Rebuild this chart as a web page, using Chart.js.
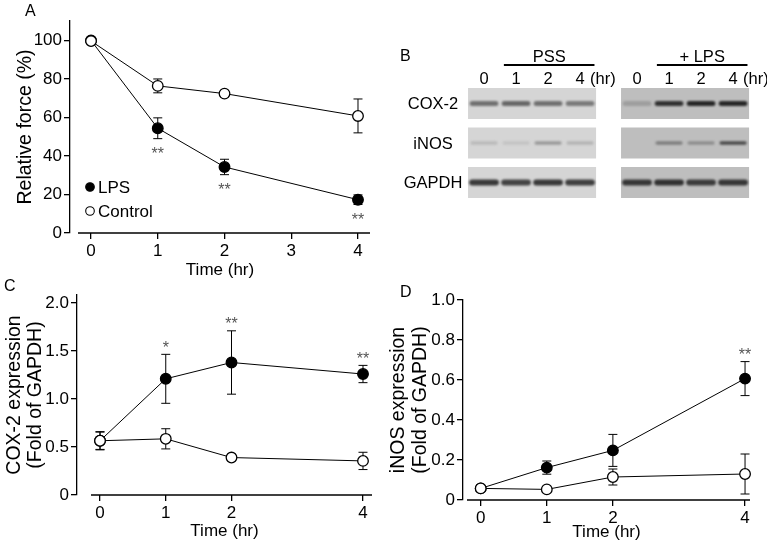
<!DOCTYPE html>
<html>
<head>
<meta charset="UTF-8">
<title>LPS force and expression</title>
<script src="https://cdn.jsdelivr.net/npm/chart.js@4.4.1/dist/chart.umd.min.js"></script>
<style>
  body { margin: 0; background: #fff; }
  #fig { position: relative; width: 767px; height: 541px; overflow: hidden; }
  #fig canvas { position: absolute; }
  .panel { position: absolute; font: 16px "Liberation Sans", Arial, sans-serif; line-height: 16px; color: #000; }
</style>
</head>
<body>
<div id="fig">
  <canvas id="chartA" width="380" height="282" style="left:0;top:0"></canvas>
  <canvas id="chartB" width="387" height="270" style="left:380px;top:0"></canvas>
  <canvas id="chartC" width="380" height="271" style="left:0;top:270px"></canvas>
  <canvas id="chartD" width="387" height="271" style="left:380px;top:270px"></canvas>
  <div class="panel" style="left:25px;top:3px">A</div>
  <div class="panel" style="left:400px;top:48px">B</div>
  <div class="panel" style="left:4px;top:278px">C</div>
  <div class="panel" style="left:400px;top:284px">D</div>
</div>
<script>
var FONT = '"Liberation Sans", Arial, sans-serif';

// data
var time = [0, 1, 2, 4];
var seriesNames = ['LPS', 'Control'];

var forceLPS = [100, 54.4, 34.3, 17.3];
var forceLPSErr = [0, 5.4, 4.0, 2.5];
var forceCtrl = [99.7, 76.4, 72.4, 60.8];
var forceCtrlErr = [0, 3.6, 1.5, 8.8];
var forceStars = ['', '**', '**', '**'];
var forceYTicks = [0, 20, 40, 60, 80, 100];
var forceXTicks = [0, 1, 2, 3, 4];

var coxLPS = [0.565, 1.21, 1.38, 1.26];
var coxLPSErr = [0.09, 0.255, 0.33, 0.09];
var coxCtrl = [0.565, 0.585, 0.39, 0.355];
var coxCtrlErr = [0.095, 0.105, 0.02, 0.09];
var coxStars = ['', '*', '**', '**'];
var coxYTicks = [0, 0.5, 1.0, 1.5, 2.0];

var inosLPS = [0.058, 0.162, 0.248, 0.607];
var inosLPSErr = [0.005, 0.033, 0.08, 0.085];
var inosCtrl = [0.058, 0.053, 0.115, 0.13];
var inosCtrlErr = [0.005, 0.005, 0.04, 0.1];
var inosStars = ['', '', '', '**'];
var inosYTicks = [0, 0.2, 0.4, 0.6, 0.8, 1.0];

var timeTicks = [0, 1, 2, 4];

// gel (panel B): band darkness 0..1 per lane
var gelRows = ['COX-2', 'iNOS', 'GAPDH'];
var gelLanes = ['0', '1', '2', '4'];
var gelGroups = ['PSS', '+ LPS'];
var coxBandPSS = [0.55, 0.6, 0.55, 0.5];
var coxBandLPS = [0.2, 0.88, 0.95, 0.95];
var inosBandPSS = [0.15, 0.1, 0.32, 0.18];
var inosBandLPS = [0, 0.4, 0.3, 0.72];
var gapdhBandPSS = [0.85, 0.8, 0.85, 0.82];
var gapdhBandLPS = [0.85, 0.88, 0.82, 0.85];

// error bars, stars, x axis line, legend
var figureExtras = {
  id: 'figureExtras',
  beforeDatasetsDraw: function(chart) {
    var ctx = chart.ctx, xs = chart.scales.x, ys = chart.scales.y;
    ctx.save();
    ctx.strokeStyle = '#000';
    ctx.lineWidth = 1;
    chart.data.datasets.forEach(function(ds) {
      if (!ds.err) return;
      ds.data.forEach(function(p, i) {
        var e = ds.err[i];
        if (!e) return;
        var px = xs.getPixelForValue(p.x);
        var top = ys.getPixelForValue(p.y + e);
        var bot = ys.getPixelForValue(p.y - e);
        ctx.beginPath();
        ctx.moveTo(px, top); ctx.lineTo(px, bot);
        ctx.moveTo(px - 4.5, top); ctx.lineTo(px + 4.5, top);
        ctx.moveTo(px - 4.5, bot); ctx.lineTo(px + 4.5, bot);
        ctx.stroke();
      });
    });
    ctx.restore();
  },
  afterDatasetsDraw: function(chart, args, opts) {
    var ctx = chart.ctx, xs = chart.scales.x, ys = chart.scales.y, area = chart.chartArea;
    ctx.save();
    // x axis line, with a small gap from the y axis
    ctx.strokeStyle = '#000';
    ctx.lineWidth = 1.3;
    ctx.beginPath();
    ctx.moveTo(area.left + opts.axisGap, area.bottom);
    ctx.lineTo(area.right, area.bottom);
    ctx.stroke();

    // significance stars
    ctx.fillStyle = '#555';
    ctx.font = '16px ' + FONT;
    ctx.textAlign = 'center';
    ctx.textBaseline = 'alphabetic';
    chart.data.datasets.forEach(function(ds) {
      if (!ds.stars) return;
      ds.data.forEach(function(p, i) {
        if (!ds.stars[i]) return;
        var px = xs.getPixelForValue(p.x);
        var cy;
        if (ds.starSide === 'below') cy = ys.getPixelForValue(p.y - ds.err[i]) + 11;
        else cy = ys.getPixelForValue(p.y + ds.err[i]) - 10.5;
        ctx.fillText(ds.stars[i], px, cy + 9);
      });
    });

    // legend
    if (opts.legend) {
      var lg = opts.legend;
      ctx.font = '17px ' + FONT;
      ctx.textAlign = 'left';
      ctx.textBaseline = 'middle';
      seriesNames.forEach(function(name, i) {
        var lx = area.left + lg.x;
        var ly = area.bottom - lg.y + i * lg.gap;
        ctx.beginPath();
        ctx.arc(lx, ly, 4.3, 0, Math.PI * 2);
        ctx.fillStyle = i === 0 ? '#000' : '#fff';
        ctx.fill();
        ctx.lineWidth = 1.1;
        ctx.strokeStyle = '#000';
        ctx.stroke();
        ctx.fillStyle = '#000';
        ctx.fillText(name, lx + 8, ly + 1);
      });
    }
    ctx.restore();
  }
};

function seriesData(vals) {
  return time.map(function(t, i) { return { x: t, y: vals[i] }; });
}

function makeDatasets(lps, lpsErr, ctrl, ctrlErr, stars, starSide) {
  var common = {
    borderColor: '#000', borderWidth: 1, tension: 0, clip: false,
    pointRadius: 5.3, pointBorderColor: '#000', pointBorderWidth: 1.3
  };
  return [
    Object.assign({}, common, {
      label: seriesNames[1], data: seriesData(ctrl), err: ctrlErr,
      pointBackgroundColor: '#fff', order: 0
    }),
    Object.assign({}, common, {
      label: seriesNames[0], data: seriesData(lps), err: lpsErr,
      stars: stars, starSide: starSide,
      pointBackgroundColor: '#000', order: 1
    })
  ];
}

function lineOptions(cfg) {
  var grid = { drawOnChartArea: false, drawTicks: true, tickLength: 6, color: '#000', lineWidth: 1.3 };
  return {
    responsive: false,
    animation: false,
    events: [],
    layout: { padding: cfg.padding },
    plugins: {
      legend: { display: false },
      tooltip: { enabled: false },
      figureExtras: { axisGap: cfg.axisGap, legend: cfg.legend }
    },
    scales: {
      x: {
        type: 'linear', min: cfg.xMin, max: cfg.xMax,
        afterBuildTicks: function(axis) { axis.ticks = cfg.xTicks.map(function(v) { return { value: v }; }); },
        afterFit: function(axis) { axis.height = cfg.xHeight; },
        border: { display: false },
        grid: grid,
        ticks: { color: '#000', font: { family: FONT, size: 17 }, padding: 2, maxRotation: 0,
                 callback: function(v) { return String(v); } },
        title: { display: true, text: 'Time (hr)', color: '#000',
                 font: { family: FONT, size: 17, lineHeight: 1.0 }, padding: { top: 0, bottom: cfg.xTitlePad } }
      },
      y: {
        type: 'linear', min: 0, max: cfg.yMax,
        afterBuildTicks: function(axis) { axis.ticks = cfg.yTicks.map(function(v) { return { value: v }; }); },
        afterFit: function(axis) { axis.width = cfg.yWidth; },
        border: { display: true, color: '#000', width: 1.3 },
        grid: grid,
        ticks: { color: '#000', font: { family: FONT, size: 17 }, padding: 2, callback: cfg.yFormat },
        title: { display: true, text: cfg.yTitle, color: '#000',
                 font: { family: FONT, size: 19.5, lineHeight: 1.1 }, padding: { top: cfg.yTitlePad, bottom: 0 } }
      }
    }
  };
}

function oneDecimal(v) { return v === 0 ? '0' : v.toFixed(1); }

// A: relative force
new Chart(document.getElementById('chartA'), {
  type: 'line',
  data: { datasets: makeDatasets(forceLPS, forceLPSErr, forceCtrl, forceCtrlErr, forceStars, 'below') },
  options: lineOptions({
    padding: { top: 21, right: 10, bottom: 0, left: 0 },
    xMin: -0.315, xMax: 4.18, xTicks: forceXTicks, xHeight: 49, xTitlePad: 3.5,
    yMax: 110.1, yTicks: forceYTicks, yWidth: 70, yTitlePad: 14.8,
    yTitle: 'Relative force (%)', yFormat: function(v) { return String(v); },
    axisGap: 8, legend: { x: 20, y: 46, gap: 24 }
  }),
  plugins: [figureExtras]
});

// C: COX-2
new Chart(document.getElementById('chartC'), {
  type: 'line',
  data: { datasets: makeDatasets(coxLPS, coxLPSErr, coxCtrl, coxCtrlErr, coxStars, 'above') },
  options: lineOptions({
    padding: { top: 25, right: 8, bottom: 0, left: 0 },
    xMin: -0.35, xMax: 4.137, xTicks: timeTicks, xHeight: 46, xTitlePad: 1.5,
    yMax: 2.083, yTicks: coxYTicks, yWidth: 77, yTitlePad: 3.8,
    yTitle: ['COX-2 expression', '(Fold of GAPDH)'], yFormat: oneDecimal,
    axisGap: 14, legend: null
  }),
  plugins: [figureExtras]
});

// D: iNOS
new Chart(document.getElementById('chartD'), {
  type: 'line',
  data: { datasets: makeDatasets(inosLPS, inosLPSErr, inosCtrl, inosCtrlErr, inosStars, 'above') },
  options: lineOptions({
    padding: { top: 30, right: 17, bottom: 0, left: 0 },
    xMin: -0.268, xMax: 4.075, xTicks: timeTicks, xHeight: 41, xTitlePad: 0,
    yMax: 1.0, yTicks: inosYTicks, yWidth: 83, yTitlePad: 8.3,
    yTitle: ['iNOS expression', '(Fold of GAPDH)'], yFormat: oneDecimal,
    axisGap: 4, legend: null
  }),
  plugins: [figureExtras]
});

// B: gel bands
var bandSets = [
  [coxBandPSS, coxBandLPS],
  [inosBandPSS, inosBandLPS],
  [gapdhBandPSS, gapdhBandLPS]
];
var groupStep = 4.78;           // lane offset of the second gel
var gelBg = [213, 190];         // gray level of each gel
var bandThick = [5, 3.5, 6];

function gray(level) {
  var g = Math.round(level);
  return 'rgb(' + g + ',' + g + ',' + g + ')';
}

var gelDatasets = [];
gelRows.forEach(function(row, r) {
  gelGroups.forEach(function(group, g) {
    var x0 = g * groupStep;
    gelDatasets.push({
      data: [{ x: x0 - 0.5, y: r }, { x: x0 + gelLanes.length - 0.5, y: r }],
      borderColor: gray(gelBg[g]), borderWidth: 31, borderCapStyle: 'butt',
      pointRadius: 0, clip: false, order: 2
    });
    bandSets[r][g].forEach(function(d, l) {
      if (d <= 0) return;
      var lvl = gelBg[g] - d * (gelBg[g] - 30);
      gelDatasets.push({
        data: [{ x: x0 + l - 0.37, y: r }, { x: x0 + l + 0.37, y: r }],
        borderColor: gray(lvl), borderWidth: bandThick[r], borderCapStyle: 'round',
        pointRadius: 0, clip: false, order: 1, band: true
      });
    });
  });
});

var gelText = {
  id: 'gelText',
  beforeDatasetDraw: function(chart, args) {
    if (args.meta.controller.getDataset().band) chart.ctx.filter = 'blur(0.9px)';
  },
  afterDatasetDraw: function(chart) { chart.ctx.filter = 'none'; },
  afterDraw: function(chart) {
    var ctx = chart.ctx, xs = chart.scales.x, ys = chart.scales.y;
    var gelTop = ys.getPixelForValue(0) - 15.5;
    ctx.save();
    ctx.fillStyle = '#000';
    ctx.strokeStyle = '#000';
    ctx.font = '16.5px ' + FONT;
    ctx.textBaseline = 'middle';
    ctx.textAlign = 'center';
    gelRows.forEach(function(row, r) {
      ctx.fillText(row, xs.getPixelForValue(-0.5) - 35, ys.getPixelForValue(r) + 1);
    });
    gelGroups.forEach(function(group, g) {
      var x0 = g * groupStep;
      ctx.textAlign = 'center';
      gelLanes.forEach(function(lane, l) {
        ctx.fillText(lane, xs.getPixelForValue(x0 + l), gelTop - 9);
      });
      var last = xs.getPixelForValue(x0 + gelLanes.length - 1);
      ctx.textAlign = 'left';
      ctx.fillText('(hr)', last + 10, gelTop - 9);
      var a = xs.getPixelForValue(x0 + 0.62), b = xs.getPixelForValue(x0 + 3.45);
      ctx.lineWidth = 2;
      ctx.beginPath();
      ctx.moveTo(a, gelTop - 23); ctx.lineTo(b, gelTop - 23);
      ctx.stroke();
      ctx.textAlign = 'center';
      ctx.fillText(group, (a + b) / 2, gelTop - 31);
    });
    ctx.restore();
  }
};

new Chart(document.getElementById('chartB'), {
  type: 'line',
  data: { datasets: gelDatasets },
  options: {
    responsive: false,
    animation: false,
    events: [],
    layout: { padding: 0 },
    plugins: { legend: { display: false }, tooltip: { enabled: false } },
    scales: {
      x: { type: 'linear', display: false, min: -3.25, max: 8.84 },
      y: { type: 'linear', display: false, reverse: true, min: -2.62, max: 4.215 }
    }
  },
  plugins: [gelText]
});
</script>
</body>
</html>
